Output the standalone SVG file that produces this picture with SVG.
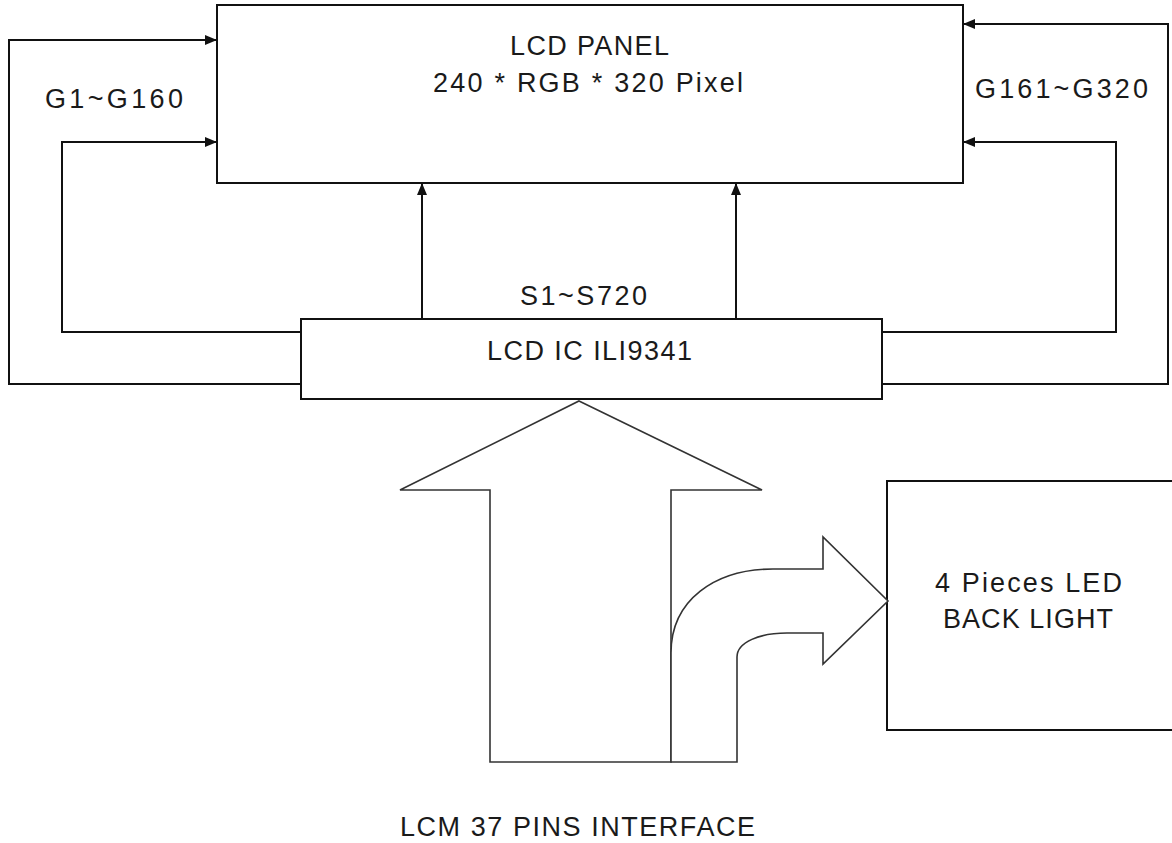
<svg xmlns="http://www.w3.org/2000/svg" width="1172" height="843" viewBox="0 0 1172 843">
<style>
  .box { fill: #fff; stroke: #111; stroke-width: 2; }
  .wire { fill: none; stroke: #111; stroke-width: 2; }
  .fat { fill: #fff; stroke: #333; stroke-width: 1.6; stroke-linejoin: miter; }
  text { font-family: "Liberation Sans", Arial, sans-serif; font-size: 27px; fill: #1a1a1a; }
</style>
<defs>
  <marker id="ah" viewBox="0 0 12 10" refX="12" refY="5" markerWidth="12" markerHeight="10" markerUnits="userSpaceOnUse" orient="auto">
    <path d="M0,0 L12,5 L0,10 Z" fill="#111"/>
  </marker>
</defs>
<rect width="1172" height="843" fill="#fff"/>

<g id="panel">
  <rect class="box" x="217" y="5" width="746" height="178"/>
  <text x="510" y="55" textLength="159" lengthAdjust="spacing">LCD PANEL</text>
  <text x="433" y="92" textLength="310" lengthAdjust="spacing">240 * RGB * 320 Pixel</text>
</g>

<g id="ic">
  <rect class="box" x="301" y="319" width="581" height="80"/>
  <text x="487" y="360" textLength="205" lengthAdjust="spacing">LCD IC ILI9341</text>
</g>

<g id="backlight">
  <rect class="box" x="887" y="481" width="300" height="249"/>
  <text x="935" y="592" textLength="187" lengthAdjust="spacing">4 Pieces LED</text>
  <text x="943" y="628" textLength="170" lengthAdjust="spacing">BACK LIGHT</text>
</g>

<g id="interface">
  <path class="fat" d="M579,401 L762,490 L671,490 L671,762 L490,762 L490,490 L400,490 Z"/>
  <path class="fat" d="M671,653 C671,600 715,569 773,569 L823,569 L823,537 L888,601 L823,664 L823,633 L787,633 C760,633 737,642 737,657 L737,762 L671,762 Z"/>
  <text x="400" y="836" textLength="355" lengthAdjust="spacing">LCM 37 PINS INTERFACE</text>
</g>

<g id="connectors">
  <path class="wire" d="M301,384 L9,384 L9,40 L217,40" marker-end="url(#ah)"/>
  <path class="wire" d="M301,332 L62,332 L62,142 L217,142" marker-end="url(#ah)"/>
  <path class="wire" d="M882,384 L1168,384 L1168,24 L963,24" marker-end="url(#ah)"/>
  <path class="wire" d="M882,332 L1116,332 L1116,142 L963,142" marker-end="url(#ah)"/>
  <path class="wire" d="M422,319 L422,183" marker-end="url(#ah)"/>
  <path class="wire" d="M736,319 L736,183" marker-end="url(#ah)"/>
</g>

<g id="labels">
  <text x="45" y="108" textLength="138" lengthAdjust="spacing">G1~G160</text>
  <text x="975" y="98" textLength="173" lengthAdjust="spacing">G161~G320</text>
  <text x="520" y="305" textLength="127" lengthAdjust="spacing">S1~S720</text>
</g>
</svg>
